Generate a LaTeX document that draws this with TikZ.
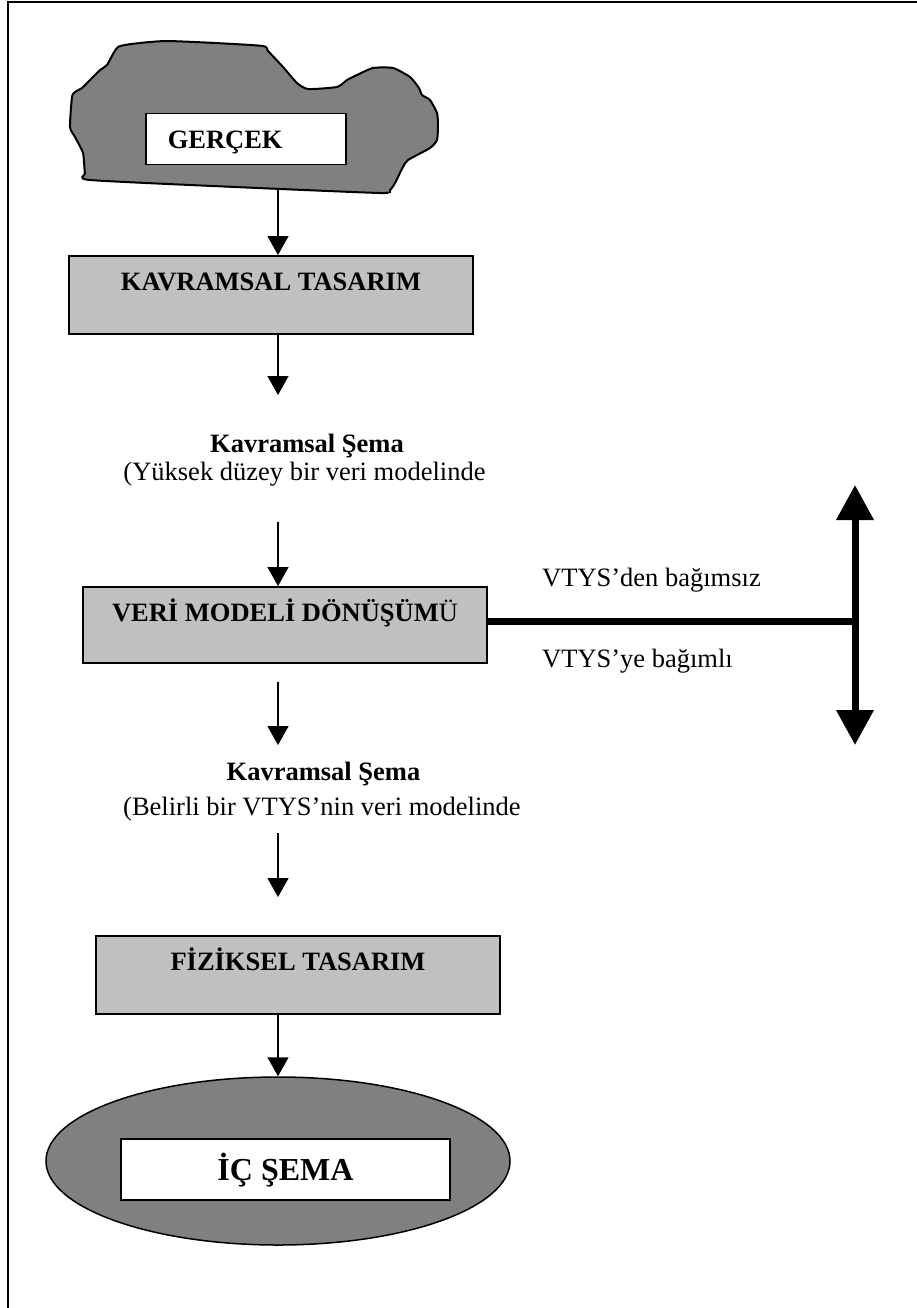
\documentclass[tikz,border=0pt]{standalone}
\usepackage{fontspec}
\setmainfont{Liberation Serif}
\usetikzlibrary{arrows.meta,shapes.geometric}
\definecolor{boxgray}{RGB}{192,192,192}
\definecolor{shapegray}{RGB}{128,128,128}
\begin{document}
\begin{tikzpicture}[x=1pt,y=-1pt,
  stagebox/.style={draw=black, line width=1.5pt, fill=boxgray,
    minimum width=404pt, inner xsep=0pt, inner ysep=0pt,
    text height=35pt, text depth=43pt,
    font=\bfseries\fontsize{26.5}{30}\selectfont, anchor=north},
  whitebox/.style={draw=black, line width=1.5pt, fill=white, inner ysep=0pt},
  flow/.style={line width=1.5pt, -{Triangle[width=21pt,length=19pt]}},
  bigflow/.style={line width=7pt,
    {Triangle[width=36pt,length=35pt]}-{Triangle[width=36pt,length=35pt]}},
  captext/.style={font=\fontsize{26.5}{30}\selectfont, inner sep=0pt, anchor=base},
  boldcap/.style={captext, font=\bfseries\fontsize{26.5}{30}\selectfont}
]
\useasboundingbox (0,0) rectangle (917,1308);

% page frame (top and left rules)
\draw[line width=2.5pt] (8,1308) -- (8,2) -- (917,2);

% the "real world" cloud
\draw[line width=2pt, fill=shapegray] plot[smooth cycle, tension=0.35] coordinates {
  (118,47) (140,43) (167,41) (215,43) (263,46) (268,51) (283,67) (297,83)
  (308,89) (337,87) (347,80) (357,75) (373,68) (393,68) (410,77) (419,88)
  (422,95) (430,100) (437,113) (438,125) (437,140) (430,148) (408,160)
  (403,167) (395,183) (390,190) (380,193) (235,187) (90,180) (85,173)
  (83,153) (75,137) (70,127) (72,97) (75,92) (82,88) (90,80) (100,70) (107,65)};
\node[whitebox, anchor=north west, text width=156pt, inner xsep=22pt,
  align=left, text height=35pt, text depth=16pt,
  font=\bfseries\fontsize{26.5}{30}\selectfont] (gercek) at (145,113) {GERÇEK};
\coordinate (cloudbot) at (278,190);

% design stages
\node[stagebox] (kav) at (271,255) {KAVRAMSAL TASARIM};
\node[stagebox, text depth=41pt] (veri) at (285,586) {VERİ MODELİ DÖNÜŞÜM\mdseries Ü};
\node[stagebox] (fiz) at (298,935) {FİZİKSEL TASARIM};

% intermediate schemas
\node[boldcap] (ks1) at (307,452) {Kavramsal Şema};
\node[captext] (ks1b) at (304.5,480) {(Yüksek düzey bir veri modelinde};
\node[boldcap] (ks2) at (323.5,780) {Kavramsal Şema};
\node[captext, anchor=base west] (ks2b) at (123,815) {(Belirli bir VTYS’nin veri modelinde};

% internal schema
\node[ellipse, draw=black, line width=1.5pt, fill=shapegray,
  minimum width=464pt, minimum height=168pt] (ic) at (278,1161) {};
\node[whitebox, minimum width=329pt, inner xsep=0pt, text height=42pt, text depth=19pt,
  font=\bfseries\fontsize{32}{36}\selectfont, anchor=north] (icbox) at (285.5,1138) {İÇ ŞEMA};

% flow arrows
\coordinate (a2end) at (278,395);
\coordinate (a3start) at (278,522);
\coordinate (a4start) at (278,682);
\coordinate (a4end) at (278,745);
\coordinate (a5start) at (278,833);
\coordinate (a5end) at (278,897);
\draw[flow] (cloudbot) -- (cloudbot |- kav.north);
\draw[flow] (kav.south -| cloudbot) -- (a2end);
\draw[flow] (a3start) -- (a3start |- veri.north);
\draw[flow] (a4start) -- (a4end);
\draw[flow] (a5start) -- (a5end);
\draw[flow] (fiz.south -| ic.north) -- (ic.north);

% DBMS independence split
\coordinate (junc) at (855,621);
\coordinate (bigtop) at (855,485);
\coordinate (bigbot) at (855,745);
\draw[line width=7pt] (veri.east |- junc) -- (junc);
\draw[bigflow] (bigbot) -- (bigtop);
\node[captext, anchor=base west] (indep) at (542,586) {VTYS’den bağımsız};
\node[captext, anchor=base west] (dep) at (542,667) {VTYS’ye bağımlı};
\end{tikzpicture}
\end{document}
